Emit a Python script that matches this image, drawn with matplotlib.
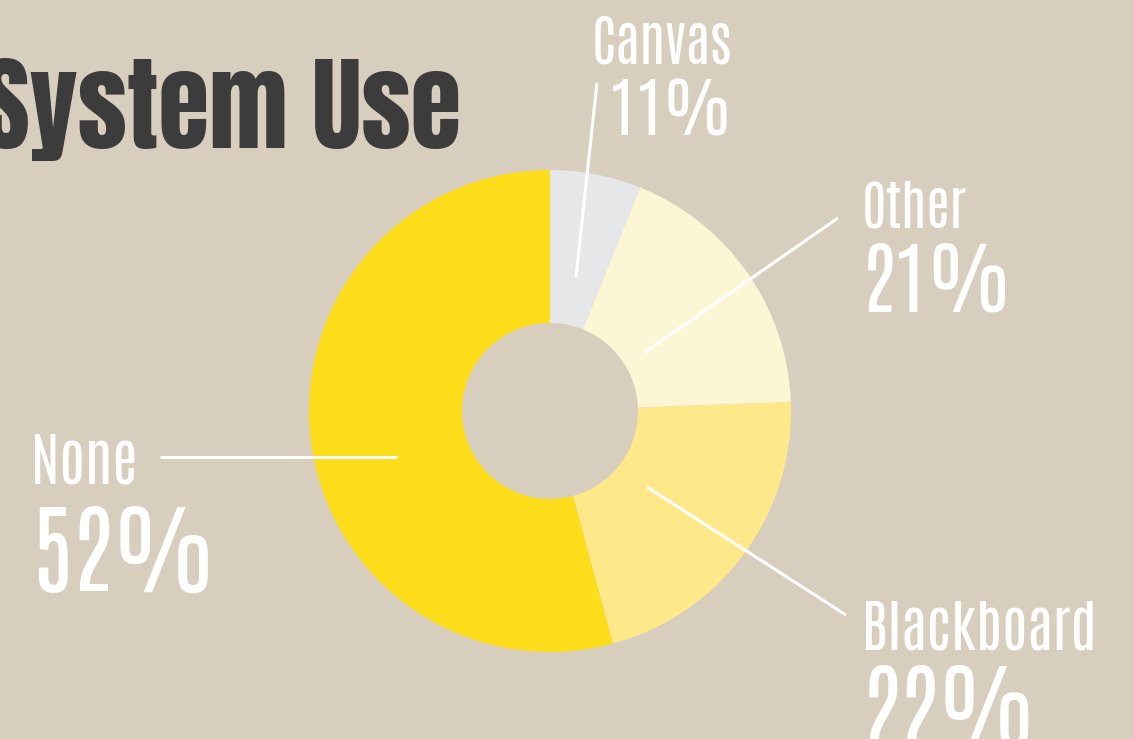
import matplotlib.pyplot as plt
from matplotlib.font_manager import FontProperties
from matplotlib.textpath import TextPath

# slices go clockwise from the top; sizes,
# the printed percentages are the ones written on the chart
categories = ["Canvas", "Other", "Blackboard", "None"]
slice_sizes = [6.1, 18.3, 21.4, 54.2]
pct_labels = ["11%", "21%", "22%", "52%"]
colors = ["#E6E7E8", "#FDF6D5", "#FEE88A", "#FEDD1A"]

bg = "#D8CEBE"
W, H = 1133, 739
FONT = ["Antonio", "DejaVu Sans"]
TITLE_FONT = ["Anton", "Antonio", "DejaVu Sans"]

fig = plt.figure(figsize=(W / 100, H / 100), dpi=100, facecolor=bg)
ax = fig.add_axes([0, 0, 1, 1])
ax.set_facecolor(bg)

# donut, center / radii in pixels (y flipped)
cx, cy, r_out, r_in = 550, H - 411, 241, 88
ax.pie(slice_sizes, colors=colors, startangle=90, counterclock=False,
       center=(cx, cy), radius=r_out, frame=True,
       wedgeprops={"width": r_out - r_in, "linewidth": 0})
ax.set_xlim(0, W)
ax.set_ylim(0, H)
ax.set_aspect("equal")
ax.axis("off")


def put(s, base, left=None, right=None, h=None, w=None, color="white",
        family=FONT, ref=None):
    # font size picked so the ink height (or width) matches the reference
    fp = FontProperties(family=family)
    ext = TextPath((0, 0), ref or s, size=100, prop=fp).get_extents()
    k = 100 / 72
    if h is not None:
        size = h / (ext.height / 100 * k)
    else:
        size = w / (ext.width / 100 * k)
    if left is not None:
        ax.text(left, H - base, s, fontproperties=fp, fontsize=size,
                ha="left", va="baseline", color=color)
    else:
        ax.text(right, H - base, s, fontproperties=fp, fontsize=size,
                ha="right", va="baseline", color=color)


# title (cropped at the left edge in the reference)
put("System Use", 148, right=461, h=90, color="#3C3C3C",
    family=TITLE_FONT, ref="U")

# label layout (pixels from top-left of the picture)
layout = {
    "Canvas": dict(right=732, nb=63, nh=48, pb=135, ph=57, pw=None,
                   line=[(576, 277), (597, 83)]),
    "Other": dict(left=862, nb=227, nh=47, pb=312, ph=70, pw=None,
                  line=[(644, 353), (838, 218)]),
    "Blackboard": dict(left=862, nb=650, nh=50, pb=745, ph=None, pw=160,
                       line=[(647, 487), (846, 615)]),
    "None": dict(left=31, nb=483, nh=50, pb=592, ph=86, pw=None,
                 line=[(160, 457), (397, 457)]),
}

for name, pct in zip(categories, pct_labels):
    L = layout[name]
    pos = {"left": L["left"]} if "left" in L else {"right": L["right"]}
    put(name, L["nb"], h=L["nh"], **pos)
    put(pct, L["pb"], h=L["ph"], w=L["pw"], **pos)
    (x0, y0), (x1, y1) = L["line"]
    ax.plot([x0, x1], [H - y0, H - y1], color="white", lw=2.2,
            solid_capstyle="butt")

fig.savefig("out.png", dpi=100, facecolor=bg)
